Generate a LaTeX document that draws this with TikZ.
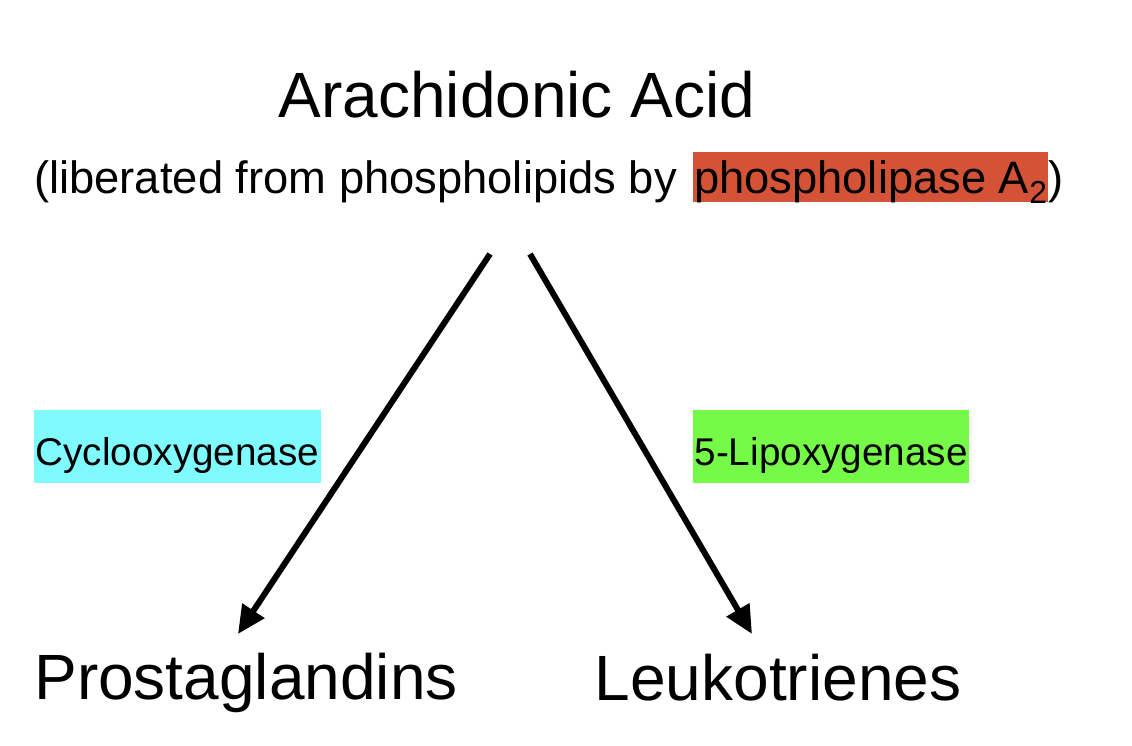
\documentclass[tikz,border=0pt]{standalone}
\usepackage{fontspec}
\setmainfont{Liberation Sans}
\usetikzlibrary{positioning,arrows.meta,calc}

\definecolor{plared}{RGB}{212,83,54}
\definecolor{coxcyan}{RGB}{127,251,255}
\definecolor{loxgreen}{RGB}{118,250,72}

\begin{document}
\begin{tikzpicture}[
  x=0.75pt, y=-0.75pt,
  arr/.style={-{Triangle[length=21pt, width=19pt]}, line width=4.5pt},
  big/.style={font=\fontsize{48}{56}\selectfont, inner sep=0pt, anchor=base},
  sub/.style={font=\fontsize{34}{40}\selectfont, inner sep=0pt},
  enz/.style={font=\fontsize{29}{34}\selectfont, inner sep=0pt, inner xsep=1pt, text height=41pt, text depth=13.5pt, anchor=base west}
]
\useasboundingbox (0,0) rectangle (1132,746);

\node[big] (acid) at (517,117) {Arachidonic Acid};

% liberation line
\node[sub, anchor=base west] (lib) at (34,193) {(liberated from phospholipids by};
\node[sub, base right=12pt of lib, fill=plared, inner xsep=0.5pt, text height=30.75pt, text depth=6.75pt] (pla) {phospholipase A\textsubscript{2}};
\node[sub, base right=0pt of pla] (paren) {)};

% enzymes
\node[enz, fill=coxcyan] (cox) at (34,465) {Cyclooxygenase};
\node[enz, fill=loxgreen] (lox) at (693,465) {5-Lipoxygenase};

% products
\node[big] (pg) at (246,699) {Prostaglandins};
\node[big] (lt) at (778,700) {Leukotrienes};

\coordinate (cox-top) at (490,254);
\coordinate (cox-tip) at (238,634);
\coordinate (lox-top) at (530,254);
\coordinate (lox-tip) at (752,634);

\draw[arr] (cox-top) -- (cox-tip);
\draw[arr] (lox-top) -- (lox-tip);

\end{tikzpicture}
\end{document}
